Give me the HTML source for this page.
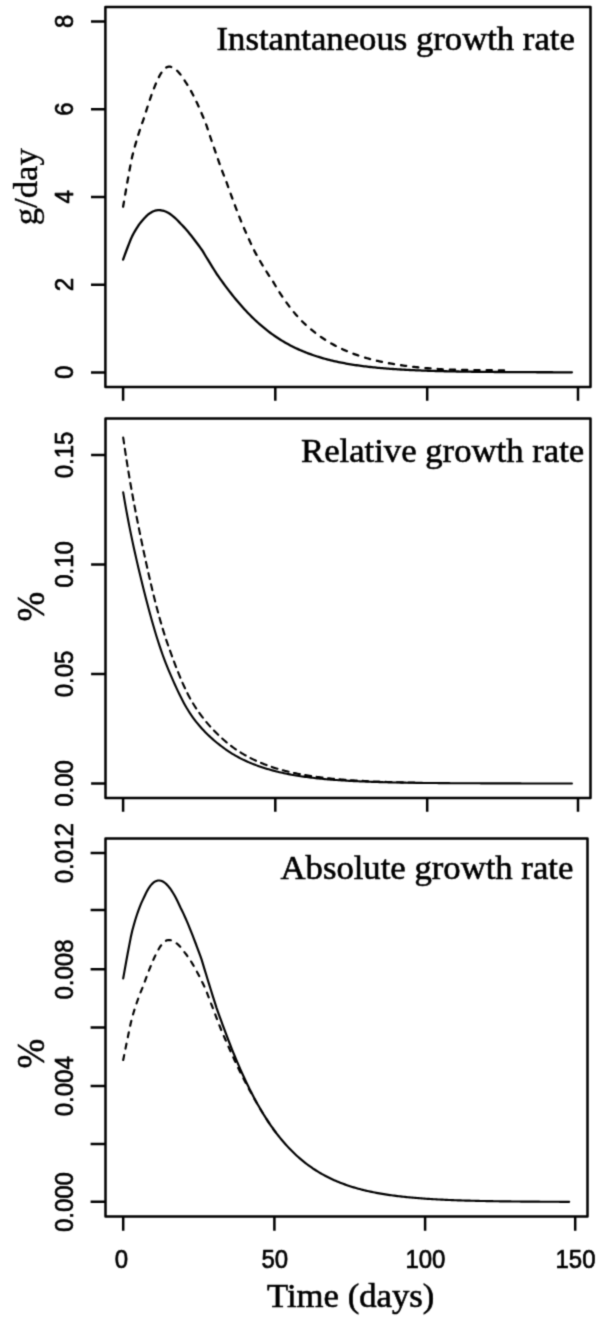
<!DOCTYPE html>
<html><head><meta charset="utf-8"><title>Growth rates</title>
<style>html,body{margin:0;padding:0;background:#fff}svg{display:block}.ax{stroke:#000;stroke-width:2.5;fill:none;stroke-linecap:butt;stroke-linejoin:round}.cv{stroke:#000;stroke-width:2.3;fill:none;stroke-linejoin:round;stroke-linecap:round}.ds{stroke:#000;stroke-width:2.3;fill:none;stroke-linejoin:round;stroke-linecap:round;stroke-dasharray:5.2 7.06}.d2{stroke-dasharray:6 5.5}.d3{stroke-dasharray:5 6.65}.t3{stroke-width:2.15}.t2{stroke-width:2.1}.sn{font-family:"Liberation Sans",Arial,Helvetica,sans-serif;font-size:25px;fill:#000;stroke:#000;stroke-width:0.65px;stroke-linejoin:round}.sf{font-family:"Liberation Serif","Times New Roman",Times,serif;font-size:34.7px;fill:#000;stroke:#000;stroke-width:0.6px}</style></head><body>
<svg width="600" height="1321" viewBox="0 0 600 1321">
<defs><filter id="soft" color-interpolation-filters="sRGB" x="0" y="0" width="100%" height="100%" filterUnits="userSpaceOnUse"><feConvolveMatrix order="3" kernelMatrix="0.0622 0.2494 0.0622 0.2494 1.0000 0.2494 0.0622 0.2494 0.0622" edgeMode="duplicate" preserveAlpha="true"/></filter></defs>
<rect width="600" height="1321" fill="#fff"/>
<g filter="url(#soft)">
<rect width="600" height="1321" fill="#fff"/>
<rect class="ax" x="105.40" y="7.00" width="485.10" height="380.00"/>
<path class="ax" d="M91.00 372.40H105.40M91.00 284.66H105.40M91.00 196.92H105.40M91.00 109.18H105.40M91.00 21.44H105.40M123.10 387.00V400.80M275.30 387.00V400.80M427.20 387.00V400.80M578.00 387.00V400.80"/>
<text class="sn" text-anchor="middle" transform="translate(73.40 372.40) rotate(-90) scale(0.96 1)">0</text>
<text class="sn" text-anchor="middle" transform="translate(73.40 284.66) rotate(-90) scale(0.96 1)">2</text>
<text class="sn" text-anchor="middle" transform="translate(73.40 196.92) rotate(-90) scale(0.96 1)">4</text>
<text class="sn" text-anchor="middle" transform="translate(73.40 109.18) rotate(-90) scale(0.96 1)">6</text>
<text class="sn" text-anchor="middle" transform="translate(73.40 21.44) rotate(-90) scale(0.96 1)">8</text>
<rect class="ax" x="105.50" y="418.50" width="485.00" height="379.50"/>
<path class="ax" d="M91.10 783.50H105.50M91.10 674.00H105.50M91.10 564.50H105.50M91.10 455.00H105.50M123.10 798.00V811.80M275.30 798.00V811.80M427.20 798.00V811.80M578.00 798.00V811.80"/>
<text class="sn" text-anchor="middle" transform="translate(73.40 783.50) rotate(-90) scale(0.96 1)">0.00</text>
<text class="sn" text-anchor="middle" transform="translate(73.40 674.00) rotate(-90) scale(0.96 1)">0.05</text>
<text class="sn" text-anchor="middle" transform="translate(73.40 564.50) rotate(-90) scale(0.96 1)">0.10</text>
<text class="sn" text-anchor="middle" transform="translate(73.40 455.00) rotate(-90) scale(0.96 1)">0.15</text>
<rect class="ax" x="105.50" y="838.50" width="482.00" height="378.00"/>
<path class="ax" d="M90.60 1201.80H105.50M90.60 1144.00H105.50M90.60 1086.00H105.50M90.60 1027.60H105.50M90.60 969.20H105.50M90.60 909.90H105.50M90.60 853.00H105.50M123.20 1216.50V1230.80M274.40 1216.50V1230.80M425.10 1216.50V1230.80M575.20 1216.50V1230.80"/>
<text class="sn" text-anchor="middle" transform="translate(73.40 1202.10) rotate(-90) scale(0.96 1)">0.000</text>
<text class="sn" text-anchor="middle" transform="translate(73.40 1086.30) rotate(-90) scale(0.96 1)">0.004</text>
<text class="sn" text-anchor="middle" transform="translate(73.40 969.50) rotate(-90) scale(0.96 1)">0.008</text>
<text class="sn" text-anchor="middle" transform="translate(73.40 853.30) rotate(-90) scale(0.96 1)">0.012</text>
<text class="sn" text-anchor="middle" transform="translate(121.30 1268.30) scale(0.96 1)">0</text>
<text class="sn" text-anchor="middle" transform="translate(274.80 1268.30) scale(0.96 1)">50</text>
<text class="sn" text-anchor="middle" transform="translate(425.40 1268.30) scale(0.96 1)">100</text>
<text class="sn" text-anchor="middle" transform="translate(575.50 1268.30) scale(0.96 1)">150</text>
<text class="sf" x="216.5" y="49.6">Instantaneous growth rate</text>
<text class="sf" x="301" y="462">Relative growth rate</text>
<text class="sf" x="280.5" y="878.6">Absolute growth rate</text>
<text class="sf" x="267" y="1306.8">Time (days)</text>
<text class="sf" text-anchor="middle" transform="translate(37 186.7) rotate(-90)" style="stroke-width:0.35px">g/day</text>
<text class="sf" text-anchor="middle" transform="translate(43.6 606.7) rotate(-90) scale(1.03 1.15)" style="stroke-width:0.5px">%</text>
<text class="sf" text-anchor="middle" transform="translate(43.6 1053.7) rotate(-90) scale(1.03 1.15)" style="stroke-width:0.5px">%</text>
<path class="cv" d="M123.10 259.56 L124.62 255.35 L126.13 251.24 L127.65 247.22 L129.17 243.32 L130.68 239.55 L132.20 236.15 L133.71 233.29 L135.23 230.60 L136.75 228.10 L138.26 225.78 L139.78 223.66 L141.30 221.72 L142.81 219.99 L144.33 218.33 L145.84 216.69 L147.36 215.23 L148.88 213.97 L150.39 212.89 L151.91 211.99 L153.43 211.27 L154.94 210.73 L156.46 210.36 L157.98 210.17 L159.49 210.13 L161.01 210.26 L162.52 210.54 L164.04 210.97 L165.56 211.54 L167.07 212.25 L168.59 213.09 L170.11 214.05 L171.62 215.14 L173.14 216.33 L174.66 217.63 L176.17 219.03 L177.69 220.52 L179.20 222.10 L180.72 223.76 L182.24 225.28 L183.75 226.88 L185.27 228.55 L186.79 230.28 L188.30 232.06 L189.82 233.90 L191.33 235.79 L192.85 237.72 L194.37 239.69 L195.88 241.69 L197.40 243.72 L198.92 245.78 L200.43 247.86 L201.95 249.96 L203.47 252.47 L204.98 254.98 L206.50 257.48 L208.01 259.97 L209.53 262.45 L211.05 264.90 L212.56 267.34 L214.08 269.76 L215.60 272.16 L217.11 274.53 L218.63 276.68 L220.15 278.81 L221.66 280.92 L223.18 283.00 L224.69 285.06 L226.21 287.10 L227.73 289.10 L229.24 291.08 L230.76 293.04 L232.28 294.96 L233.79 296.85 L235.31 298.71 L236.82 300.54 L238.34 302.34 L239.86 304.10 L241.37 305.84 L242.89 307.54 L244.41 309.21 L245.92 310.84 L247.44 312.45 L248.96 314.02 L250.47 315.56 L251.99 317.06 L253.50 318.54 L255.02 319.98 L256.54 321.39 L258.05 322.77 L259.57 324.12 L261.09 325.43 L262.60 326.72 L264.12 327.98 L265.64 329.20 L267.15 330.40 L268.67 331.57 L270.18 332.71 L271.70 333.82 L273.22 334.91 L274.73 335.96 L276.25 336.99 L277.77 338.00 L279.28 338.98 L280.80 339.93 L282.31 340.86 L283.83 341.77 L285.35 342.65 L286.86 343.50 L288.38 344.34 L289.90 345.15 L291.41 345.94 L292.93 346.71 L294.45 347.46 L295.96 348.19 L297.48 348.90 L298.99 349.59 L300.51 350.26 L302.03 350.91 L303.54 351.54 L305.06 352.16 L306.58 352.76 L308.09 353.34 L309.61 353.90 L311.13 354.45 L312.64 354.99 L314.16 355.50 L315.67 356.01 L317.19 356.50 L318.71 356.97 L320.22 357.43 L321.74 357.88 L323.26 358.32 L324.77 358.74 L326.29 359.15 L327.80 359.55 L329.32 359.94 L330.84 360.31 L332.35 360.68 L333.87 361.03 L335.39 361.37 L336.90 361.71 L338.42 362.03 L339.94 362.34 L341.45 362.65 L342.97 362.94 L344.48 363.23 L346.00 363.51 L347.52 363.78 L349.03 364.04 L350.55 364.30 L352.07 364.54 L353.58 364.78 L355.10 365.02 L356.62 365.24 L358.13 365.46 L359.65 365.67 L361.16 365.88 L362.68 366.08 L364.20 366.27 L365.71 366.46 L367.23 366.64 L368.75 366.81 L370.26 366.99 L371.78 367.15 L373.29 367.31 L374.81 367.47 L376.33 367.62 L377.84 367.77 L379.36 367.91 L380.88 368.05 L382.39 368.18 L383.91 368.31 L385.43 368.44 L386.94 368.56 L388.46 368.68 L389.97 368.79 L391.49 368.90 L393.01 369.01 L394.52 369.11 L396.04 369.21 L397.56 369.31 L399.07 369.41 L400.59 369.50 L402.11 369.59 L403.62 369.68 L405.14 369.76 L406.65 369.84 L408.17 369.92 L409.69 370.00 L411.20 370.07 L412.72 370.14 L414.24 370.21 L415.75 370.28 L417.27 370.34 L418.78 370.41 L420.30 370.47 L421.82 370.53 L423.33 370.59 L424.85 370.64 L426.37 370.70 L427.88 370.75 L429.40 370.80 L430.92 370.85 L432.43 370.90 L433.95 370.94 L435.46 370.99 L436.98 371.03 L438.50 371.08 L440.01 371.12 L441.53 371.16 L443.05 371.19 L444.56 371.23 L446.08 371.27 L447.60 371.30 L449.11 371.34 L450.63 371.37 L452.14 371.40 L453.66 371.43 L455.18 371.46 L456.69 371.49 L458.21 371.52 L459.73 371.55 L461.24 371.57 L462.76 371.60 L464.27 371.62 L465.79 371.65 L467.31 371.67 L468.82 371.69 L470.34 371.72 L471.86 371.74 L473.37 371.76 L474.89 371.78 L476.41 371.80 L477.92 371.82 L479.44 371.83 L480.95 371.85 L482.47 371.87 L483.99 371.88 L485.50 371.90 L487.02 371.92 L488.54 371.93 L490.05 371.95 L491.57 371.96 L493.09 371.97 L494.60 371.99 L496.12 372.00 L497.63 372.01 L499.15 372.02 L500.67 372.04 L502.18 372.05 L503.70 372.06 L505.22 372.07 L506.73 372.08 L508.25 372.09 L509.76 372.10 L511.28 372.11 L512.80 372.12 L514.31 372.13 L515.83 372.13 L517.35 372.14 L518.86 372.15 L520.38 372.16 L521.90 372.17 L523.41 372.17 L524.93 372.18 L526.44 372.19 L527.96 372.19 L529.48 372.20 L530.99 372.21 L532.51 372.21 L534.03 372.22 L535.54 372.22 L537.06 372.23 L538.58 372.23 L540.09 372.24 L541.61 372.24 L543.12 372.25 L544.64 372.25 L546.16 372.26 L547.67 372.26 L549.19 372.27 L550.71 372.27 L552.22 372.27 L553.74 372.28 L555.25 372.28 L556.77 372.29 L558.29 372.29 L559.80 372.29 L561.32 372.30 L562.84 372.30 L564.35 372.30 L565.87 372.31 L567.39 372.31 L568.90 372.31 L570.42 372.31 L571.93 372.32"/>
<path class="ds" d="M123.10 206.70 L124.62 197.89 L126.13 189.17 L127.65 180.57 L129.17 172.12 L130.68 163.86 L132.20 156.55 L133.71 150.67 L135.23 145.10 L136.75 139.84 L138.26 134.85 L139.78 130.11 L141.30 125.62 L142.81 121.34 L144.33 116.87 L145.84 111.99 L147.36 107.25 L148.88 102.64 L150.39 98.19 L151.91 93.90 L153.43 89.80 L154.94 85.91 L156.46 82.28 L157.98 78.94 L159.49 75.92 L161.01 73.27 L162.52 71.03 L164.04 69.22 L165.56 67.87 L167.07 67.01 L168.59 66.63 L170.11 66.71 L171.62 67.10 L173.14 67.75 L174.66 68.68 L176.17 69.86 L177.69 71.28 L179.20 72.94 L180.72 74.82 L182.24 76.91 L183.75 79.20 L185.27 81.60 L186.79 83.85 L188.30 86.26 L189.82 88.85 L191.33 91.58 L192.85 94.46 L194.37 97.48 L195.88 100.61 L197.40 103.86 L198.92 107.21 L200.43 110.66 L201.95 114.19 L203.47 117.80 L204.98 121.48 L206.50 125.38 L208.01 129.99 L209.53 134.62 L211.05 139.25 L212.56 143.62 L214.08 147.99 L215.60 152.36 L217.11 156.73 L218.63 161.09 L220.15 165.43 L221.66 169.67 L223.18 173.58 L224.69 177.47 L226.21 181.34 L227.73 185.63 L229.24 189.89 L230.76 194.09 L232.28 198.25 L233.79 202.35 L235.31 206.40 L236.82 210.39 L238.34 214.33 L239.86 218.20 L241.37 222.02 L242.89 225.60 L244.41 229.12 L245.92 232.58 L247.44 235.99 L248.96 239.34 L250.47 242.64 L251.99 245.87 L253.50 249.05 L255.02 252.17 L256.54 254.88 L258.05 257.56 L259.57 260.19 L261.09 262.77 L262.60 265.32 L264.12 267.82 L265.64 270.28 L267.15 272.69 L268.67 275.06 L270.18 277.39 L271.70 279.67 L273.22 281.91 L274.73 284.52 L276.25 287.07 L277.77 289.55 L279.28 291.96 L280.80 294.32 L282.31 296.61 L283.83 298.84 L285.35 301.02 L286.86 303.13 L288.38 305.19 L289.90 307.20 L291.41 309.14 L292.93 311.04 L294.45 312.88 L295.96 314.68 L297.48 316.42 L298.99 318.12 L300.51 319.76 L302.03 321.26 L303.54 322.72 L305.06 324.15 L306.58 325.53 L308.09 326.88 L309.61 328.19 L311.13 329.47 L312.64 330.71 L314.16 331.92 L315.67 333.09 L317.19 334.23 L318.71 335.34 L320.22 336.42 L321.74 337.47 L323.26 338.49 L324.77 339.48 L326.29 340.45 L327.80 341.39 L329.32 342.30 L330.84 343.18 L332.35 344.04 L333.87 344.88 L335.39 345.69 L336.90 346.48 L338.42 347.25 L339.94 347.99 L341.45 348.71 L342.97 349.42 L344.48 350.10 L346.00 350.76 L347.52 351.41 L349.03 352.03 L350.55 352.64 L352.07 353.23 L353.58 353.80 L355.10 354.35 L356.62 354.89 L358.13 355.41 L359.65 355.92 L361.16 356.42 L362.68 356.89 L364.20 357.36 L365.71 357.81 L367.23 358.25 L368.75 358.67 L370.26 359.08 L371.78 359.48 L373.29 359.87 L374.81 360.25 L376.33 360.62 L377.84 360.97 L379.36 361.31 L380.88 361.65 L382.39 361.97 L383.91 362.29 L385.43 362.59 L386.94 362.89 L388.46 363.17 L389.97 363.45 L391.49 363.72 L393.01 363.99 L394.52 364.24 L396.04 364.49 L397.56 364.73 L399.07 364.96 L400.59 365.18 L402.11 365.40 L403.62 365.61 L405.14 365.82 L406.65 366.02 L408.17 366.21 L409.69 366.40 L411.20 366.58 L412.72 366.76 L414.24 366.93 L415.75 367.09 L417.27 367.26 L418.78 367.41 L420.30 367.56 L421.82 367.71 L423.33 367.85 L424.85 367.99 L426.37 368.12 L427.88 368.25 L429.40 368.38 L430.92 368.50 L432.43 368.62 L433.95 368.74 L435.46 368.85 L436.98 368.95 L438.50 369.06 L440.01 369.16 L441.53 369.26 L443.05 369.35 L444.56 369.45 L446.08 369.54 L447.60 369.60 L449.11 369.64 L450.63 369.67 L452.14 369.70 L453.66 369.73 L455.18 369.76 L456.69 369.79 L458.21 369.82 L459.73 369.85 L461.24 369.87 L462.76 369.90 L464.27 369.92 L465.79 369.95 L467.31 369.97 L468.82 369.99 L470.34 370.02 L471.86 370.04 L473.37 370.06 L474.89 370.08 L476.41 370.10 L477.92 370.12 L479.44 370.13 L480.95 370.15 L482.47 370.17 L483.99 370.18 L485.50 370.20 L487.02 370.22 L488.54 370.23 L490.05 370.25 L491.57 370.26 L493.09 370.27 L494.60 370.29 L496.12 370.30 L497.63 370.31 L499.15 370.32 L500.67 370.34 L502.18 370.35 L503.70 370.36 L505.22 370.37 L506.73 370.38 L508.25 370.39"/>
<path class="cv t2" d="M123.20 492.38 L124.72 501.33 L126.23 509.86 L127.75 518.01 L129.26 525.83 L130.78 533.36 L132.30 540.62 L133.81 547.66 L135.33 554.49 L136.84 561.14 L138.36 567.64 L139.88 574.00 L141.39 580.25 L142.91 586.39 L144.42 592.45 L145.94 598.42 L147.46 604.27 L148.97 609.99 L150.49 615.58 L152.00 621.03 L153.52 626.33 L155.04 631.48 L156.55 636.46 L158.07 641.29 L159.58 645.94 L161.10 650.43 L162.62 654.75 L164.13 658.91 L165.65 662.89 L167.16 666.70 L168.68 670.35 L170.20 673.90 L171.71 677.42 L173.23 680.88 L174.74 684.29 L176.26 687.62 L177.78 690.87 L179.29 694.03 L180.81 697.09 L182.32 700.05 L183.84 702.90 L185.36 705.64 L186.87 708.26 L188.39 710.76 L189.90 713.14 L191.42 715.40 L192.94 717.54 L194.45 719.57 L195.97 721.53 L197.48 723.42 L199.00 725.24 L200.52 727.00 L202.03 728.69 L203.55 730.33 L205.06 731.91 L206.58 733.44 L208.10 734.93 L209.61 736.37 L211.13 737.77 L212.64 739.13 L214.16 740.44 L215.68 741.73 L217.19 742.98 L218.71 744.19 L220.22 745.38 L221.74 746.53 L223.26 747.66 L224.77 748.76 L226.29 749.83 L227.80 750.87 L229.32 751.88 L230.84 752.85 L232.35 753.80 L233.87 754.71 L235.38 755.59 L236.90 756.44 L238.42 757.27 L239.93 758.07 L241.45 758.84 L242.96 759.59 L244.48 760.32 L246.00 761.02 L247.51 761.70 L249.03 762.36 L250.54 763.00 L252.06 763.63 L253.58 764.23 L255.09 764.81 L256.61 765.38 L258.12 765.93 L259.64 766.47 L261.16 766.98 L262.67 767.49 L264.19 767.98 L265.70 768.45 L267.22 768.91 L268.74 769.36 L270.25 769.79 L271.77 770.22 L273.28 770.63 L274.80 771.03 L276.32 771.41 L277.83 771.79 L279.35 772.15 L280.86 772.50 L282.38 772.84 L283.90 773.17 L285.41 773.49 L286.93 773.80 L288.44 774.10 L289.96 774.40 L291.48 774.68 L292.99 774.95 L294.51 775.22 L296.02 775.47 L297.54 775.72 L299.06 775.96 L300.57 776.20 L302.09 776.42 L303.60 776.64 L305.12 776.86 L306.64 777.06 L308.15 777.26 L309.67 777.46 L311.18 777.64 L312.70 777.82 L314.22 778.00 L315.73 778.17 L317.25 778.34 L318.76 778.50 L320.28 778.65 L321.80 778.80 L323.31 778.95 L324.83 779.09 L326.34 779.23 L327.86 779.36 L329.38 779.49 L330.89 779.61 L332.41 779.73 L333.92 779.85 L335.44 779.96 L336.96 780.07 L338.47 780.18 L339.99 780.28 L341.50 780.38 L343.02 780.48 L344.54 780.57 L346.05 780.66 L347.57 780.75 L349.08 780.83 L350.60 780.92 L352.12 781.00 L353.63 781.08 L355.15 781.15 L356.66 781.22 L358.18 781.29 L359.70 781.36 L361.21 781.43 L362.73 781.49 L364.24 781.56 L365.76 781.62 L367.28 781.67 L368.79 781.73 L370.31 781.79 L371.82 781.84 L373.34 781.89 L374.86 781.94 L376.37 781.99 L377.89 782.04 L379.40 782.08 L380.92 782.12 L382.44 782.17 L383.95 782.21 L385.47 782.25 L386.98 782.29 L388.50 782.33 L390.02 782.36 L391.53 782.40 L393.05 782.43 L394.56 782.46 L396.08 782.50 L397.60 782.53 L399.11 782.56 L400.63 782.59 L402.14 782.62 L403.66 782.64 L405.18 782.67 L406.69 782.69 L408.21 782.72 L409.72 782.74 L411.24 782.77 L412.76 782.79 L414.27 782.81 L415.79 782.83 L417.30 782.85 L418.82 782.87 L420.34 782.89 L421.85 782.91 L423.37 782.93 L424.88 782.95 L426.40 782.97 L427.92 782.98 L429.43 783.00 L430.95 783.01 L432.46 783.03 L433.98 783.04 L435.50 783.06 L437.01 783.07 L438.53 783.08 L440.04 783.10 L441.56 783.11 L443.08 783.12 L444.59 783.13 L446.11 783.15 L447.62 783.16 L449.14 783.17 L450.66 783.18 L452.17 783.19 L453.69 783.20 L455.20 783.21 L456.72 783.22 L458.24 783.22 L459.75 783.23 L461.27 783.24 L462.78 783.25 L464.30 783.26 L465.82 783.26 L467.33 783.27 L468.85 783.28 L470.36 783.29 L471.88 783.29 L473.40 783.30 L474.91 783.30 L476.43 783.31 L477.94 783.32 L479.46 783.32 L480.98 783.33 L482.49 783.33 L484.01 783.34 L485.52 783.34 L487.04 783.35 L488.56 783.35 L490.07 783.36 L491.59 783.36 L493.10 783.37 L494.62 783.37 L496.14 783.37 L497.65 783.38 L499.17 783.38 L500.68 783.39 L502.20 783.39 L503.72 783.39 L505.23 783.40 L506.75 783.40 L508.26 783.40 L509.78 783.41 L511.30 783.41 L512.81 783.41 L514.33 783.41 L515.84 783.42 L517.36 783.42 L518.88 783.42 L520.39 783.42 L521.91 783.43 L523.42 783.43 L524.94 783.43 L526.46 783.43 L527.97 783.44 L529.49 783.44 L531.00 783.44 L532.52 783.44 L534.04 783.44 L535.55 783.44 L537.07 783.45 L538.58 783.45 L540.10 783.45 L541.62 783.45 L543.13 783.45 L544.65 783.45 L546.16 783.46 L547.68 783.46 L549.20 783.46 L550.71 783.46 L552.23 783.46 L553.74 783.46 L555.26 783.46 L556.78 783.46 L558.29 783.47 L559.81 783.47 L561.32 783.47 L562.84 783.47 L564.36 783.47 L565.87 783.47 L567.39 783.47 L568.90 783.47 L570.42 783.47 L571.94 783.47"/>
<path class="ds d2 t2" d="M123.20 437.53 L124.72 448.00 L126.23 457.97 L127.75 467.51 L129.26 476.67 L130.78 485.48 L132.30 493.99 L133.81 502.24 L135.33 510.25 L136.84 518.05 L138.36 525.68 L139.88 533.16 L141.39 540.50 L142.91 547.73 L144.42 554.86 L145.94 561.89 L147.46 568.79 L148.97 575.54 L150.49 582.14 L152.00 588.58 L153.52 594.84 L155.04 600.93 L156.55 606.83 L158.07 612.54 L159.58 618.05 L161.10 623.37 L162.62 628.49 L164.13 633.42 L165.65 638.14 L167.16 642.67 L168.68 647.00 L170.20 651.22 L171.71 655.40 L173.23 659.52 L174.74 663.58 L176.26 667.55 L177.78 671.42 L179.29 675.19 L180.81 678.84 L182.32 682.37 L183.84 685.78 L185.36 689.05 L186.87 692.18 L188.39 695.17 L189.90 698.02 L191.42 700.73 L192.94 703.28 L194.45 705.72 L195.97 708.07 L197.48 710.33 L199.00 712.51 L200.52 714.61 L202.03 716.65 L203.55 718.61 L205.06 720.51 L206.58 722.35 L208.10 724.14 L209.61 725.87 L211.13 727.55 L212.64 729.19 L214.16 730.77 L215.68 732.32 L217.19 733.82 L218.71 735.29 L220.22 736.72 L221.74 738.11 L223.26 739.47 L224.77 740.80 L226.29 742.10 L227.80 743.36 L229.32 744.58 L230.84 745.76 L232.35 746.91 L233.87 748.01 L235.38 749.08 L236.90 750.12 L238.42 751.12 L239.93 752.09 L241.45 753.03 L242.96 753.94 L244.48 754.82 L246.00 755.68 L247.51 756.51 L249.03 757.32 L250.54 758.10 L252.06 758.86 L253.58 759.59 L255.09 760.31 L256.61 761.00 L258.12 761.67 L259.64 762.32 L261.16 762.96 L262.67 763.57 L264.19 764.17 L265.70 764.75 L267.22 765.32 L268.74 765.87 L270.25 766.40 L271.77 766.92 L273.28 767.42 L274.80 767.91 L276.32 768.39 L277.83 768.85 L279.35 769.30 L280.86 769.73 L282.38 770.15 L283.90 770.56 L285.41 770.95 L286.93 771.34 L288.44 771.71 L289.96 772.07 L291.48 772.42 L292.99 772.76 L294.51 773.08 L296.02 773.40 L297.54 773.71 L299.06 774.01 L300.57 774.30 L302.09 774.58 L303.60 774.85 L305.12 775.12 L306.64 775.37 L308.15 775.62 L309.67 775.86 L311.18 776.09 L312.70 776.32 L314.22 776.54 L315.73 776.75 L317.25 776.96 L318.76 777.16 L320.28 777.35 L321.80 777.54 L323.31 777.72 L324.83 777.90 L326.34 778.07 L327.86 778.23 L329.38 778.39 L330.89 778.55 L332.41 778.70 L333.92 778.85 L335.44 778.99 L336.96 779.13 L338.47 779.26 L339.99 779.39 L341.50 779.52 L343.02 779.64 L344.54 779.76 L346.05 779.87 L347.57 779.98 L349.08 780.09 L350.60 780.19 L352.12 780.29 L353.63 780.39 L355.15 780.49 L356.66 780.58 L358.18 780.67 L359.70 780.75 L361.21 780.84 L362.73 780.92 L364.24 781.00 L365.76 781.07 L367.28 781.15 L368.79 781.22 L370.31 781.29 L371.82 781.36 L373.34 781.42 L374.86 781.49 L376.37 781.55 L377.89 781.61 L379.40 781.66 L380.92 781.72 L382.44 781.77 L383.95 781.83 L385.47 781.88 L386.98 781.93 L388.50 781.98 L390.02 782.02 L391.53 782.07 L393.05 782.11 L394.56 782.15 L396.08 782.19 L397.60 782.23 L399.11 782.27 L400.63 782.31 L402.14 782.35 L403.66 782.38 L405.18 782.42 L406.69 782.45 L408.21 782.48 L409.72 782.51 L411.24 782.54 L412.76 782.57 L414.27 782.60 L415.79 782.63 L417.30 782.65"/>
<path class="cv t3" d="M123.20 978.41 L124.71 969.87 L126.21 961.49 L127.72 953.30 L129.23 945.33 L130.73 937.59 L132.24 930.76 L133.75 925.22 L135.25 920.05 L136.76 915.25 L138.27 910.82 L139.77 906.79 L141.28 903.14 L142.79 899.88 L144.29 896.71 L145.80 893.46 L147.31 890.58 L148.81 888.07 L150.32 885.92 L151.83 884.15 L153.33 882.72 L154.84 881.65 L156.35 880.93 L157.85 880.53 L159.36 880.47 L160.87 880.72 L162.37 881.27 L163.88 882.13 L165.39 883.26 L166.89 884.66 L168.40 886.33 L169.91 888.24 L171.41 890.38 L172.92 892.75 L174.43 895.32 L175.93 898.09 L177.44 901.05 L178.95 904.18 L180.45 907.47 L181.96 910.49 L183.47 913.65 L184.97 916.95 L186.48 920.38 L187.99 923.92 L189.49 927.57 L191.00 931.31 L192.51 935.13 L194.01 939.03 L195.52 943.00 L197.03 947.03 L198.53 951.10 L200.04 955.22 L201.55 959.38 L203.05 964.36 L204.56 969.33 L206.07 974.29 L207.57 979.22 L209.08 984.13 L210.59 989.00 L212.09 993.83 L213.60 998.62 L215.11 1003.37 L216.61 1008.06 L218.12 1012.33 L219.63 1016.55 L221.13 1020.73 L222.64 1024.86 L224.15 1028.94 L225.65 1032.97 L227.16 1036.95 L228.67 1040.87 L230.17 1044.74 L231.68 1048.55 L233.19 1052.29 L234.69 1055.98 L236.20 1059.61 L237.71 1063.17 L239.21 1066.67 L240.72 1070.10 L242.23 1073.48 L243.73 1076.78 L245.24 1080.02 L246.75 1083.20 L248.25 1086.32 L249.76 1089.36 L251.27 1092.35 L252.77 1095.27 L254.28 1098.13 L255.79 1100.92 L257.29 1103.66 L258.80 1106.33 L260.31 1108.94 L261.81 1111.49 L263.32 1113.98 L264.83 1116.41 L266.33 1118.78 L267.84 1121.10 L269.35 1123.35 L270.85 1125.56 L272.36 1127.71 L273.87 1129.80 L275.37 1131.84 L276.88 1133.84 L278.39 1135.77 L279.89 1137.66 L281.40 1139.51 L282.91 1141.30 L284.41 1143.04 L285.92 1144.74 L287.43 1146.40 L288.93 1148.01 L290.44 1149.57 L291.95 1151.10 L293.45 1152.58 L294.96 1154.03 L296.47 1155.43 L297.97 1156.80 L299.48 1158.12 L300.99 1159.41 L302.49 1160.67 L304.00 1161.89 L305.51 1163.07 L307.01 1164.23 L308.52 1165.35 L310.03 1166.43 L311.53 1167.49 L313.04 1168.52 L314.55 1169.52 L316.05 1170.49 L317.56 1171.43 L319.07 1172.34 L320.57 1173.23 L322.08 1174.09 L323.59 1174.93 L325.09 1175.75 L326.60 1176.54 L328.11 1177.30 L329.61 1178.05 L331.12 1178.77 L332.63 1179.47 L334.13 1180.15 L335.64 1180.81 L337.15 1181.45 L338.65 1182.07 L340.16 1182.68 L341.67 1183.26 L343.17 1183.83 L344.68 1184.38 L346.19 1184.92 L347.69 1185.44 L349.20 1185.94 L350.71 1186.43 L352.21 1186.91 L353.72 1187.37 L355.23 1187.81 L356.73 1188.25 L358.24 1188.67 L359.75 1189.07 L361.25 1189.47 L362.76 1189.85 L364.27 1190.22 L365.77 1190.58 L367.28 1190.93 L368.79 1191.27 L370.29 1191.60 L371.80 1191.92 L373.31 1192.23 L374.81 1192.53 L376.32 1192.82 L377.83 1193.10 L379.33 1193.37 L380.84 1193.64 L382.35 1193.90 L383.85 1194.14 L385.36 1194.39 L386.87 1194.62 L388.37 1194.85 L389.88 1195.07 L391.39 1195.28 L392.89 1195.49 L394.40 1195.69 L395.91 1195.88 L397.41 1196.07 L398.92 1196.25 L400.43 1196.43 L401.93 1196.60 L403.44 1196.77 L404.95 1196.93 L406.45 1197.09 L407.96 1197.24 L409.47 1197.38 L410.97 1197.53 L412.48 1197.66 L413.99 1197.80 L415.49 1197.93 L417.00 1198.05 L418.51 1198.18 L420.01 1198.29 L421.52 1198.41 L423.03 1198.52 L424.53 1198.63 L426.04 1198.73 L427.55 1198.83 L429.05 1198.93 L430.56 1199.02 L432.07 1199.12 L433.57 1199.21 L435.08 1199.29 L436.59 1199.38 L438.09 1199.46 L439.60 1199.54 L441.11 1199.61 L442.61 1199.69 L444.12 1199.76 L445.63 1199.83 L447.13 1199.89 L448.64 1199.96 L450.15 1200.02 L451.65 1200.08 L453.16 1200.14 L454.67 1200.20 L456.17 1200.26 L457.68 1200.31 L459.19 1200.36 L460.69 1200.41 L462.20 1200.46 L463.71 1200.51 L465.21 1200.56 L466.72 1200.60 L468.23 1200.64 L469.73 1200.69 L471.24 1200.73 L472.75 1200.77 L474.25 1200.80 L475.76 1200.84 L477.27 1200.88 L478.77 1200.91 L480.28 1200.95 L481.79 1200.98 L483.29 1201.01 L484.80 1201.04 L486.31 1201.07 L487.81 1201.10 L489.32 1201.13 L490.83 1201.15 L492.33 1201.18 L493.84 1201.21 L495.35 1201.23 L496.85 1201.25 L498.36 1201.28 L499.87 1201.30 L501.37 1201.32 L502.88 1201.34 L504.39 1201.36 L505.89 1201.38 L507.40 1201.40 L508.91 1201.42 L510.41 1201.44 L511.92 1201.46 L513.43 1201.47 L514.93 1201.49 L516.44 1201.50 L517.95 1201.52 L519.45 1201.53 L520.96 1201.55 L522.47 1201.56 L523.97 1201.58 L525.48 1201.59 L526.99 1201.60 L528.49 1201.61 L530.00 1201.63 L531.51 1201.64 L533.01 1201.65 L534.52 1201.66 L536.03 1201.67 L537.53 1201.68 L539.04 1201.69 L540.55 1201.70 L542.05 1201.71 L543.56 1201.72 L545.07 1201.73 L546.57 1201.74 L548.08 1201.74 L549.59 1201.75 L551.09 1201.76 L552.60 1201.77 L554.11 1201.77 L555.61 1201.78 L557.12 1201.79 L558.63 1201.79 L560.13 1201.80 L561.64 1201.81 L563.15 1201.81 L564.65 1201.82 L566.16 1201.82 L567.67 1201.83 L569.17 1201.84"/>
<path class="ds d3 t3" d="M123.20 1060.01 L124.71 1052.47 L126.21 1044.99 L127.72 1037.63 L129.23 1030.39 L130.73 1023.31 L132.24 1017.05 L133.75 1012.01 L135.25 1007.24 L136.76 1002.72 L138.27 998.45 L139.77 994.39 L141.28 990.54 L142.79 986.87 L144.29 983.05 L145.80 978.86 L147.31 974.80 L148.81 970.85 L150.32 967.04 L151.83 963.36 L153.33 959.85 L154.84 956.52 L156.35 953.41 L157.85 950.54 L159.36 947.96 L160.87 945.69 L162.37 943.76 L163.88 942.21 L165.39 941.06 L166.89 940.32 L168.40 940.00 L169.91 940.07 L171.41 940.39 L172.92 940.96 L174.43 941.75 L175.93 942.76 L177.44 943.98 L178.95 945.40 L180.45 947.01 L181.96 948.81 L183.47 950.77 L184.97 952.82 L186.48 954.75 L187.99 956.82 L189.49 959.03 L191.00 961.38 L192.51 963.85 L194.01 966.43 L195.52 969.11 L197.03 971.90 L198.53 974.77 L200.04 977.72 L201.55 980.75 L203.05 983.84 L204.56 986.99 L206.07 990.34 L207.57 994.29 L209.08 998.25 L210.59 1002.22 L212.09 1006.20 L213.60 1010.17 L215.11 1014.13 L216.61 1018.08 L218.12 1022.01 L219.63 1025.92 L221.13 1029.74 L222.64 1033.25 L224.15 1036.75 L225.65 1040.23 L227.16 1043.68 L228.67 1047.10 L230.17 1050.49 L231.68 1053.84 L233.19 1057.16 L234.69 1060.44 L236.20 1063.68 L237.71 1066.88 L239.21 1070.02 L240.72 1073.08 L242.23 1076.09 L243.73 1079.05 L245.24 1081.95 L246.75 1084.82 L248.25 1087.65 L249.76 1090.44 L251.27 1093.19 L252.77 1095.92 L254.28 1098.60 L255.79 1101.26 L257.29 1103.88 L258.80 1106.46 L260.31 1109.00 L261.81 1111.51 L263.32 1113.97 L264.83 1116.38 L266.33 1118.75 L267.84 1121.07 L269.35 1123.34 L270.85 1125.55 L272.36 1127.70 L273.87 1129.80 L275.37 1131.84 L276.88 1133.84 L278.39 1135.77 L279.89 1137.66"/>
</g></svg></body></html>
